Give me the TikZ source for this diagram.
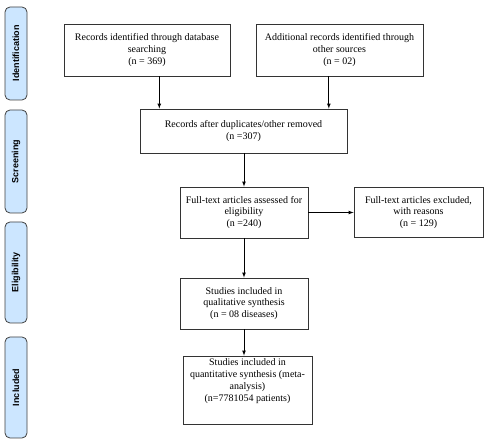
\documentclass[tikz,border=0pt]{standalone}
\usepackage{fontspec}
\setmainfont{Liberation Serif}
\setsansfont{Liberation Sans}
\usepackage{tikz}
\usetikzlibrary{positioning, arrows}

\definecolor{phasefill}{HTML}{CCE6FF}
\definecolor{phaseline}{HTML}{404040}

\tikzset{
  stage/.style={draw=black!80, line width=0.8pt, align=center, inner sep=2pt,
    font=\fontsize{10}{11.8}\selectfont},
  phase/.style={draw=phaseline, fill=phasefill, line width=0.8pt, rounded corners=5pt,
    minimum height=22pt, rotate=90, font=\sffamily\bfseries\fontsize{9}{11}\selectfont},
  flow/.style={-latex, line width=0.7pt}
}

\begin{document}
\begin{tikzpicture}
	[x=1pt, y=1pt] 
   \useasboundingbox (0,0) rectangle (488,445);
   % phases
   \node[phase, minimum width=93pt] (ident) at (16,391.5) {Identification};
   \node[phase, minimum width=103pt] (screen) at (16,283.5) {Screening};
   \node[phase, minimum width=101pt] (elig) at (16,172.5) {Eligibility};
   \node[phase, minimum width=101pt] (incl) at (16,57.5) {Included};
   % records
   \node[stage, minimum width=166pt, minimum height=52pt] (db) at (147,395)
      {Records identified through database\\searching\\(n = 369)};
   \node[stage, minimum width=167pt, minimum height=52pt] (other) at (339.5,395)
      {Additional records identified through\\other sources\\(n = 02)};
   \node[stage, minimum width=207pt, minimum height=44pt] (dup) at (243.5,314)
      {Records after duplicates/other removed\\(n =307)};
   \node[stage, minimum width=128pt, minimum height=51pt] (full) at (244,232.5)
      {Full-text articles assessed for\\eligibility\\(n =240)};
   \node[stage, minimum width=129pt, minimum height=50pt] (excl) at (418.5,232.5)
      {Full-text articles excluded,\\with reasons\\(n = 129)};
   \node[stage, minimum width=128pt, minimum height=51pt] (qual) at (244,141.5)
      {Studies included in\\qualitative synthesis\\(n = 08 diseases)};
   \node[stage, minimum width=129pt, minimum height=68pt] (quant) at (247.5,55)
      {Studies included in\\quantitative synthesis (meta-\\analysis)\\(n=7781054 patients)\\[8pt]};
   \draw[flow] (db.295) -- (db.295 |- dup.north);
   \draw[flow] (other.248) -- (other.248 |- dup.north);
   \draw[flow] (dup.south -| full.north) -- (full.north);
   \draw[flow] (full) -- (excl);
   \draw[flow] (full) -- (qual);
   \draw[flow] (qual.south) -- (qual.south |- quant.north);
\end{tikzpicture}
\end{document}
